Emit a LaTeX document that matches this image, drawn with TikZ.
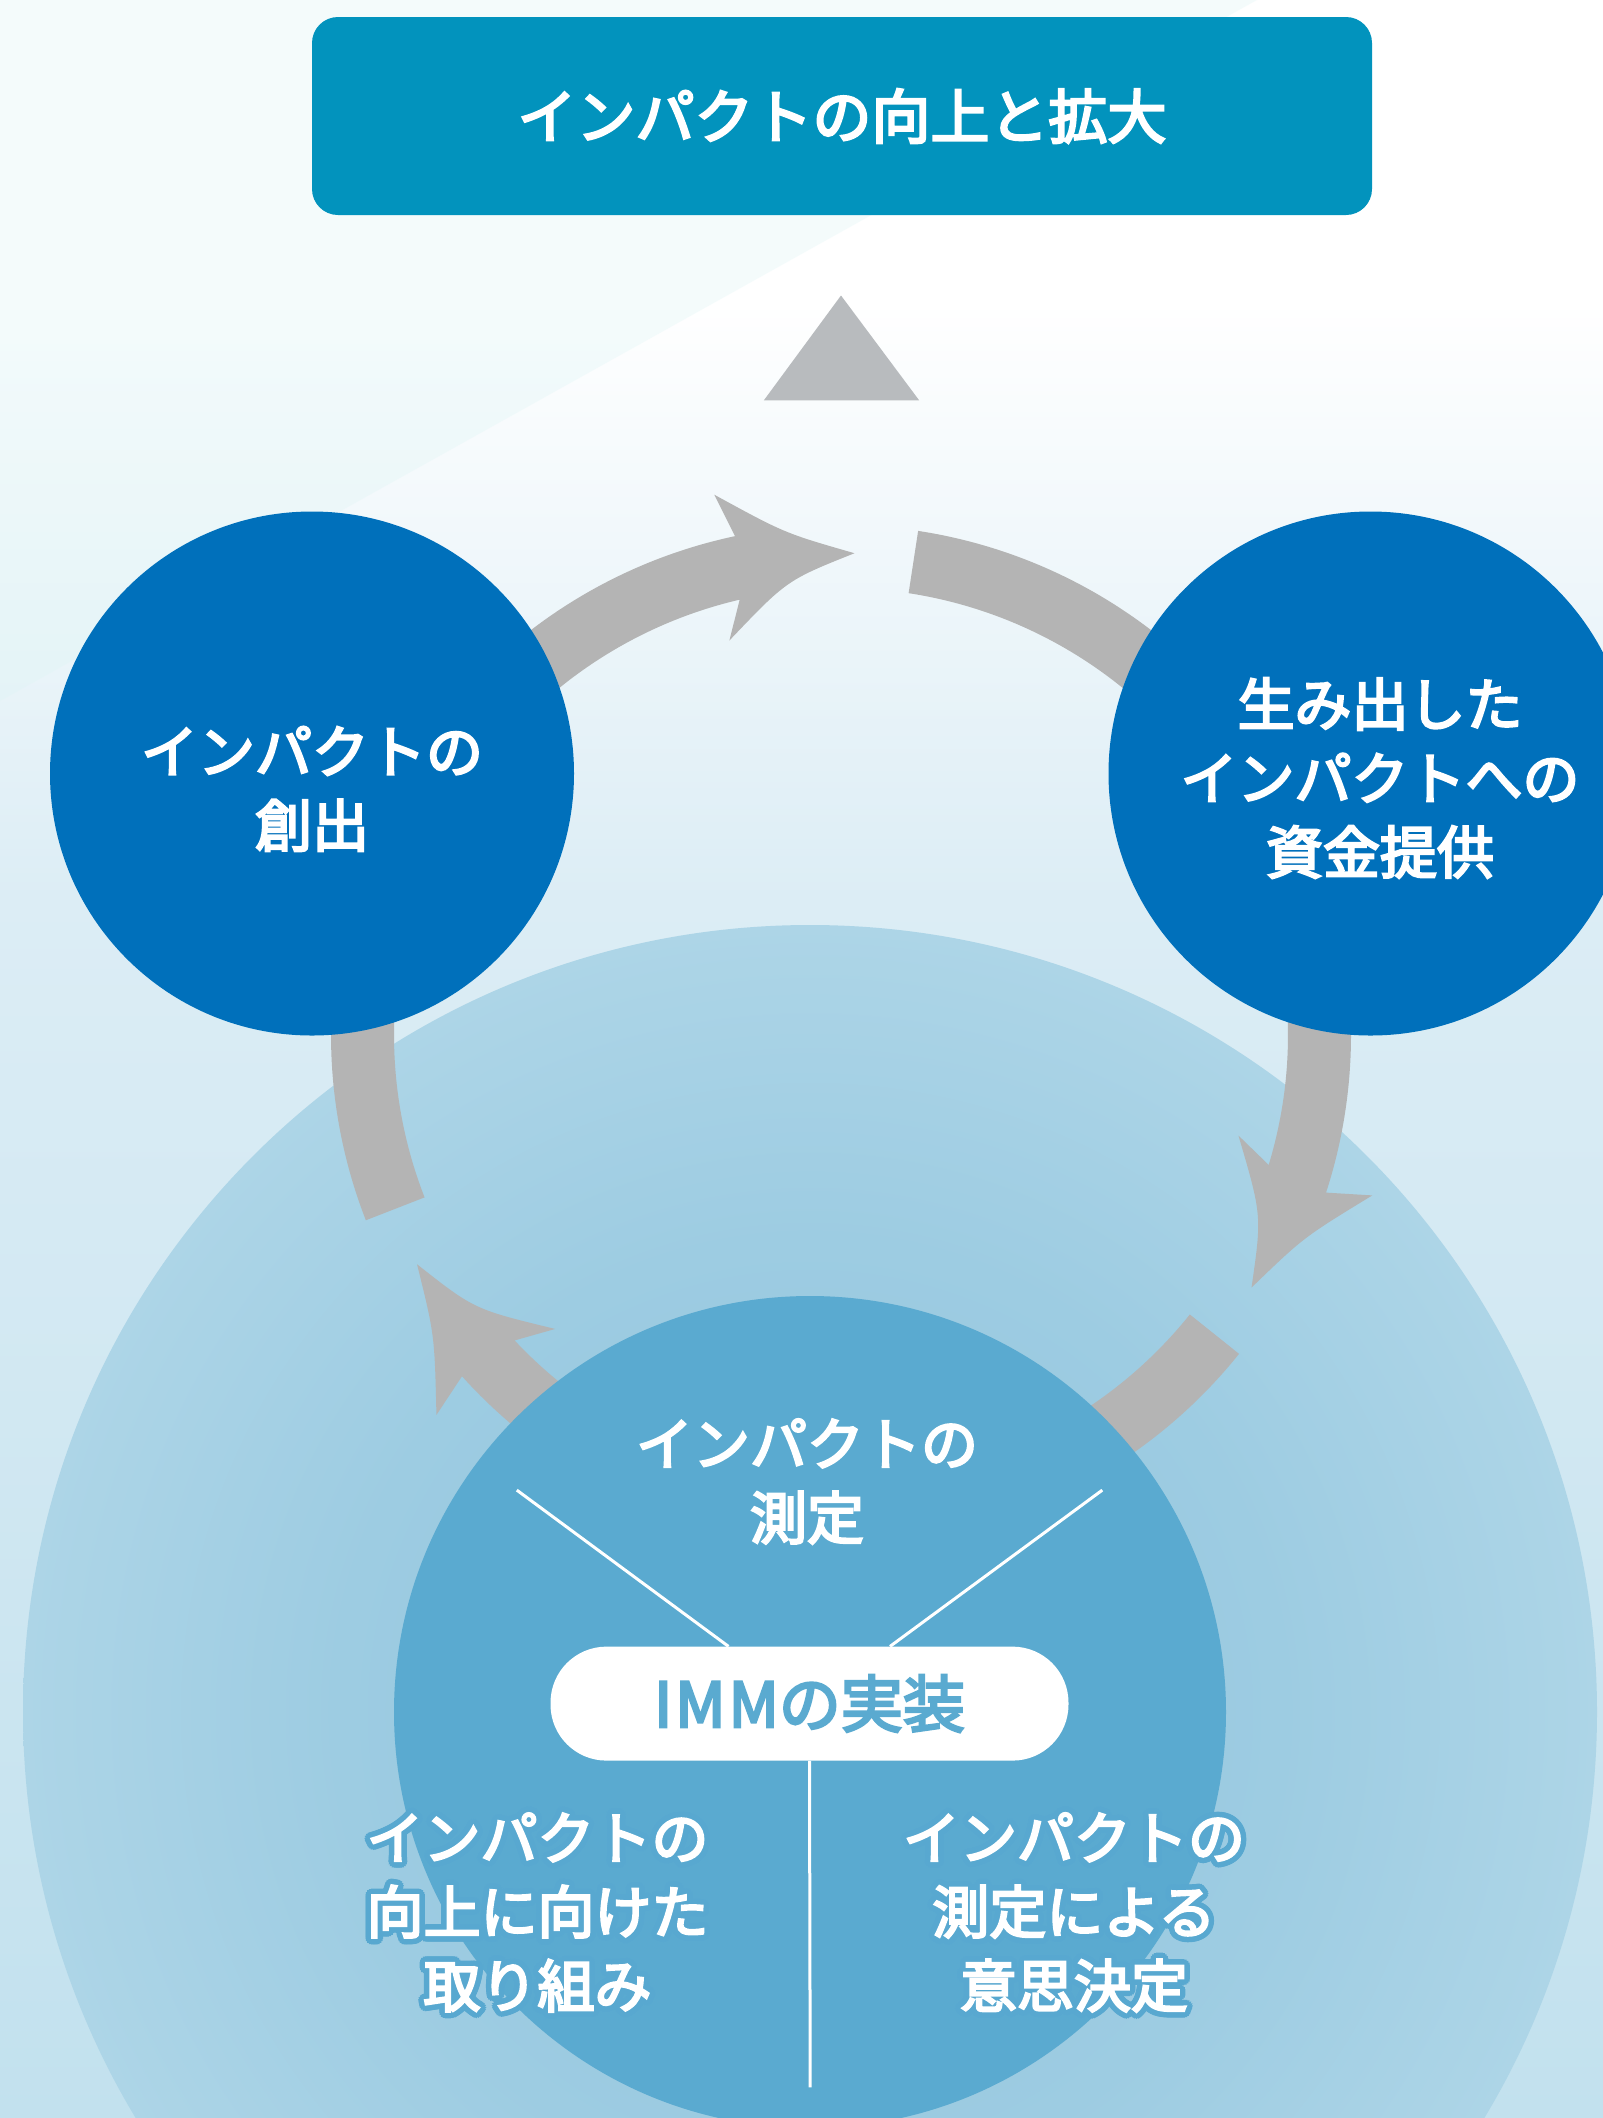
\documentclass[tikz,border=0pt]{standalone}
\usepackage{fontspec}
\setmainfont{Noto Sans CJK JP}
\newfontfamily\jpm{Noto Sans CJK JP}[FakeBold=4]
\usetikzlibrary{calc}
\definecolor{boxblue}{HTML}{0293BD}
\definecolor{circblue}{HTML}{0070BB}
\definecolor{midblue}{HTML}{5AAAD0}
\definecolor{olblue}{HTML}{58A8D0}
\definecolor{arrowgray}{HTML}{B4B4B4}
\definecolor{trigray}{HTML}{B8BBBE}
\definecolor{ringc}{HTML}{92C4DD}
\definecolor{ringm}{HTML}{9DCCE2}
\definecolor{ringo}{HTML}{ADD5E7}
\definecolor{bgbot}{HTML}{C2E1EE}
\definecolor{bgmid}{HTML}{DCEDF5}
\definecolor{bgtop}{HTML}{FFFFFF}
\definecolor{wedgec}{HTML}{DCF5F5}
\pgfdeclareverticalshading{bgshade}{100bp}{color(0bp)=(bgbot); color(25bp)=(bgbot); color(53.8bp)=(bgmid); color(67.9bp)=(bgtop); color(100bp)=(bgtop)}
\pgfdeclareradialshading{ringshade}{\pgfpoint{0bp}{0bp}}{color(0bp)=(ringc); color(15bp)=(ringm); color(25bp)=(ringo); color(50bp)=(ringo)}
\newcommand\myolcp[3]{\rlap{\hspace*{#1pt}\raisebox{#2pt}{\textcolor{olblue}{#3}}}}
\newcommand\myol[1]{\myolcp{5.5}{0}{#1}\myolcp{5.08}{2.1}{#1}\myolcp{3.89}{3.89}{#1}\myolcp{2.1}{5.08}{#1}\myolcp{0}{5.5}{#1}\myolcp{-2.1}{5.08}{#1}\myolcp{-3.89}{3.89}{#1}\myolcp{-5.08}{2.1}{#1}\myolcp{-5.5}{0}{#1}\myolcp{-5.08}{-2.1}{#1}\myolcp{-3.89}{-3.89}{#1}\myolcp{-2.1}{-5.08}{#1}\myolcp{0}{-5.5}{#1}\myolcp{2.1}{-5.08}{#1}\myolcp{3.89}{-3.89}{#1}\myolcp{5.08}{-2.1}{#1}\textcolor{white}{#1}}
\begin{document}
\begin{tikzpicture}[x=1pt,y=-1pt,
  jtext/.style={font=\fontsize{57}{74}\selectfont\jpm, text=white, align=center, inner sep=0pt},
  titlebox/.style={fill=boxblue, rounded corners=26pt, minimum width=1060pt, minimum height=198pt, text=white, font=\fontsize{59}{70}\selectfont\jpm, inner sep=0pt},
  blob/.style={circle, inner sep=0pt, minimum size=#1},
  band/.style={fill=arrowgray},
  pill/.style={fill=white, rounded corners=56pt, minimum width=518pt, minimum height=114pt, inner sep=0pt, text=midblue, font=\fontsize{62}{70}\selectfont\jpm},
  wline/.style={draw=white, line width=3pt}
]
\useasboundingbox (0,0) rectangle (1603,2118);
\clip (0,0) rectangle (1603,2118);
\shade[shading=bgshade] (0,0) rectangle (1603,2118);
\fill[wedgec, opacity=0.3] (0,0) -- (1257,0) -- (0,701) -- cycle;
\shade[shading=ringshade] (810,1712) circle[radius=787];

% title and upward triangle
\node[titlebox] (title) at (842,116) {インパクトの向上と拡大};
\fill[trigray] (841,295.5) -- (919.2,400.4) -- (763.8,400.4) -- cycle;

% cycle arrows
\coordinate (C) at (841,1035);
\foreach \o in {0,120,-120}{
  \fill[band] ($(C)+(-150+\o:510)$) arc[start angle=-150+\o, end angle=-102+\o, radius=510]
    -- ($(C)+(-103.2+\o:555)$)
    .. controls ($(C)+(-96.4+\o:505)$) .. ($(C)+(-88.4+\o:482)$)
    .. controls ($(C)+(-96.8+\o:458)$) .. ($(C)+(-105.8+\o:410)$)
    -- ($(C)+(-103.1+\o:447)$)
    arc[start angle=-103.1+\o, end angle=-150+\o, radius=447] -- cycle;
  \fill[band] ($(C)+(-81.3+\o:510)$) arc[start angle=-81.3+\o, end angle=-30+\o, radius=510]
    -- ($(C)+(-30+\o:447)$) arc[start angle=-30+\o, end angle=-81.3+\o, radius=447] -- cycle;
}

% circles
\node[blob=524pt, fill=circblue] (create) at (312,773.5) {};
\node[blob=524pt, fill=circblue] (fund) at (1370.5,773.5) {};
\node[blob=832pt, fill=midblue] (measure) at (810,1712) {};

% texts
\node[jtext] (createtxt) at (312,789) {インパクトの\\創出};
\node[jtext] (fundtxt) at (1380,778) {生み出した\\インパクトへの\\資金提供};
\node[jtext] (meastxt) at (807,1481.5) {インパクトの\\測定};
\node[jtext] (imptxt) at (537.5,1912.5) {\myol{インパクトの}\\\myol{向上に向けた}\\\myol{取り組み}};
\node[jtext] (dectxt) at (1074,1912.5) {\myol{インパクトの}\\\myol{測定による}\\\myol{意思決定}};

% IMM pill and lines
\node[pill] (imm) at (809.5,1703.6) {I\kern3pt M\kern3pt Mの実装};
\coordinate (la) at (516.8,1490.1);
\coordinate (lb) at (1102.3,1490.1);
\coordinate (lc) at (810.2,2087.4);
\draw[wline] (la) -- ($(imm.north)+(-81,0)$);
\draw[wline] (lb) -- ($(imm.north)+(80.5,0)$);
\draw[wline] (imm.south) -- (lc);
\end{tikzpicture}
\end{document}
